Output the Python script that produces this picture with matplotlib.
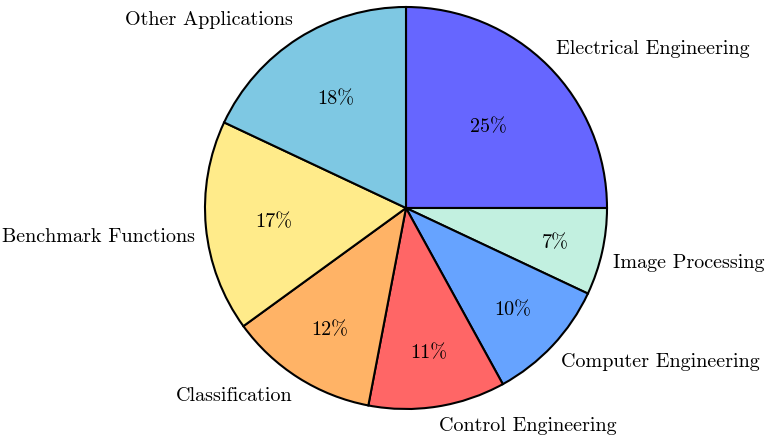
import numpy as np
import matplotlib.pyplot as plt

plt.rcParams['font.family'] = 'serif'
plt.rcParams['font.serif'] = ['cmr10']
plt.rcParams['mathtext.fontset'] = 'cm'
plt.rcParams['axes.unicode_minus'] = False

labels = ["Electrical Engineering", "Image Processing", "Computer Engineering",
          "Control Engineering", "Classification", "Benchmark Functions",
          "Other Applications"]
shares = [25, 7, 10, 11, 12, 17, 18]
colors = ["#6666ff", "#c2f0e0", "#66a3ff", "#ff6666", "#ffb366", "#ffeb8a", "#7ec8e3"]

fig = plt.figure(figsize=(7.66, 4.36), dpi=100)
ax = fig.add_axes([0, 0, 1, 1])
wedges, _ = ax.pie(shares, colors=colors, startangle=90, counterclock=False,
                   wedgeprops={'edgecolor': 'black', 'linewidth': 1.5})

for w, s, lab in zip(wedges, shares, labels):
    mid = np.deg2rad((w.theta1 + w.theta2) / 2)
    c, si = np.cos(mid), np.sin(mid)
    # percentages sit closer to the centre for the bigger slices
    d = 0.83 - 0.01 * s
    ax.text(d * c, d * si, f"{s}%", ha='center', va='center_baseline',
            fontsize=14.5)
    # label anchored by its corner facing the pie
    ax.text(1.055 * c, 1.055 * si, lab, fontsize=14.5,
            ha='left' if c > 0 else 'right',
            va='bottom' if si > 0 else 'top')

ax.set_xlim(-406 / 201, 360 / 201)
ax.set_ylim(-228 / 201, 208 / 201)
ax.set_aspect('auto')
ax.axis('off')

fig.savefig("out.png", dpi=100)
